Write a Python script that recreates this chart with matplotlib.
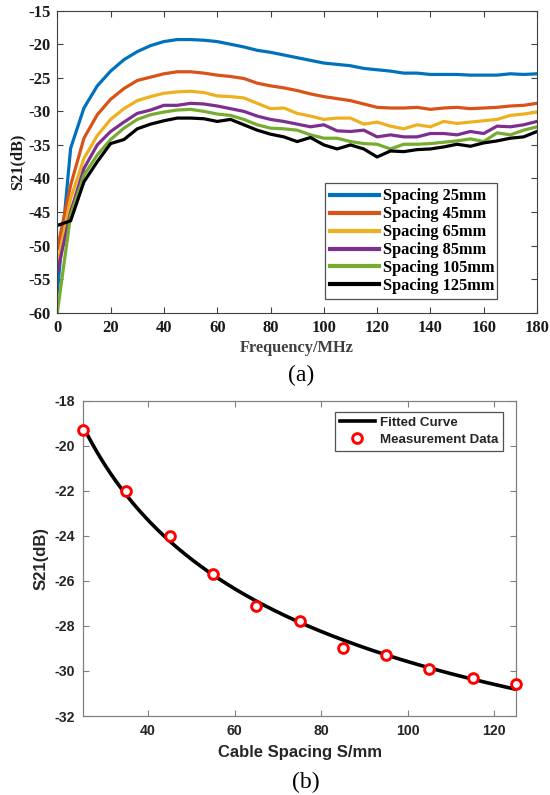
import numpy as np
import matplotlib
matplotlib.use("Agg")
import matplotlib.pyplot as plt

plt.rcParams["axes.unicode_minus"] = False

# ---- (a) S21 versus frequency for several cable spacings ----
freq_mhz = list(range(0, 181, 5))

spacing_labels = ["Spacing 25mm", "Spacing 45mm", "Spacing 65mm",
                  "Spacing 85mm", "Spacing 105mm", "Spacing 125mm"]
spacing_colors = ["#0072BD", "#D95319", "#EDB120", "#7E2F8E", "#77AC30", "#000000"]

s21_25 = [-57.0, -35.5, -29.5, -26.2, -24.0, -22.3, -21.1, -20.2, -19.6, -19.3,
          -19.3, -19.4, -19.6, -20.0, -20.4, -20.9, -21.2, -21.6, -22.0, -22.4,
          -22.8, -23.0, -23.2, -23.6, -23.8, -24.0, -24.3, -24.3, -24.5, -24.5,
          -24.5, -24.6, -24.6, -24.6, -24.4, -24.5, -24.4]
s21_45 = [-50.5, -41.0, -34.0, -30.5, -28.2, -26.6, -25.4, -24.9, -24.4, -24.1,
          -24.1, -24.3, -24.6, -24.8, -25.1, -25.8, -26.2, -26.5, -26.9, -27.4,
          -27.8, -28.1, -28.4, -28.9, -29.4, -29.5, -29.5, -29.4, -29.7, -29.5,
          -29.4, -29.6, -29.5, -29.4, -29.2, -29.1, -28.8]
s21_65 = [-53.0, -43.0, -37.0, -33.6, -31.2, -29.6, -28.4, -27.8, -27.3, -27.1,
          -27.0, -27.2, -27.7, -27.8, -28.0, -28.8, -29.6, -29.5, -30.3, -30.7,
          -31.2, -31.0, -31.0, -31.9, -31.6, -32.2, -32.6, -32.0, -32.3, -31.5,
          -31.8, -31.6, -31.4, -31.2, -30.6, -30.4, -30.1]
s21_85 = [-54.0, -45.0, -38.5, -35.0, -33.0, -31.6, -30.3, -29.8, -29.1, -29.1,
          -28.8, -28.9, -29.2, -29.6, -30.0, -30.7, -31.2, -31.5, -31.9, -32.3,
          -32.0, -32.9, -33.0, -32.8, -33.8, -33.5, -33.8, -33.8, -33.3, -33.3,
          -33.5, -33.0, -33.3, -32.2, -32.3, -32.0, -31.5]
s21_105 = [-60.0, -45.5, -39.5, -36.5, -34.2, -32.5, -31.2, -30.5, -30.1, -29.8,
           -29.7, -30.0, -30.4, -30.6, -31.2, -32.0, -32.5, -32.6, -32.8, -33.5,
           -34.0, -34.0, -34.5, -34.8, -34.9, -35.6, -34.9, -34.9, -34.8, -34.6,
           -34.4, -34.1, -34.5, -33.2, -33.5, -32.8, -32.3]
s21_125 = [-47.0, -46.3, -40.5, -37.5, -34.8, -34.2, -32.6, -31.9, -31.4, -31.0,
           -31.0, -31.1, -31.5, -31.2, -32.0, -32.8, -33.4, -33.8, -34.5, -33.9,
           -35.0, -35.6, -35.0, -35.6, -36.8, -35.9, -36.0, -35.7, -35.6, -35.3,
           -34.9, -35.2, -34.7, -34.4, -34.0, -33.8, -33.0]
spacing_series = [s21_25, s21_45, s21_65, s21_85, s21_105, s21_125]

# ---- (b) S21 at the resonance versus cable spacing ----
cable_spacing_mm = [25, 35, 45, 55, 65, 75, 85, 95, 105, 115, 125]
measured_s21 = [-19.3, -22.0, -24.0, -25.7, -27.1, -27.8, -29.0, -29.3, -29.9, -30.3, -30.6]

serif = "Liberation Serif"
sans = "Liberation Sans"

fig = plt.figure(figsize=(5.5, 7.95), dpi=100)
W, H = 550.0, 795.0


def frame(left, top, right, bottom):
    return [left / W, 1 - bottom / H, (right - left) / W, (bottom - top) / H]


# ---------------- panel (a) ----------------
ax1 = fig.add_axes(frame(57.3, 10.7, 537.0, 312.7))
for vals, lab, col in zip(spacing_series, spacing_labels, spacing_colors):
    ax1.plot(freq_mhz, vals, color=col, lw=2.3, label=lab, solid_joinstyle="round")
ax1.set_xlim(0, 180)
ax1.set_ylim(-60, -15)
ax1.set_xticks(range(0, 181, 20))
ax1.set_yticks(range(-60, -14, 5))
ax1.tick_params(direction="in", top=True, right=True, length=4, width=0.8,
                color="#404040", pad=5)
for lbl in ax1.get_xticklabels() + ax1.get_yticklabels():
    lbl.set_fontfamily(serif)
    lbl.set_fontweight("bold")
    lbl.set_fontsize(12)
    lbl.set_color("#1a1a1a")
for sp in ax1.spines.values():
    sp.set_color("#404040")
    sp.set_linewidth(0.8)
ax1.set_xlabel("Frequency/MHz", fontfamily=serif, fontweight="bold",
               fontsize=11.8, color="#404040", labelpad=3)
ax1.set_ylabel("S21(dB)", fontfamily=serif, fontweight="bold",
               fontsize=11.8, color="#1a1a1a", labelpad=1.5)
leg1 = ax1.legend(loc="lower left", bbox_to_anchor=(0.558, 0.045, 0.359, 0.391),
                  mode="expand", borderaxespad=0, frameon=True, fancybox=False,
                  edgecolor="#262626", handlelength=3.0, handletextpad=0.25,
                  borderpad=0.3, labelspacing=0.12,
                  prop={"family": serif, "weight": "bold", "size": 11.8})
leg1.get_frame().set_linewidth(0.9)
for ln in leg1.get_lines():
    ln.set_linewidth(3.0)

fig.text(301 / W, 1 - 375 / H, "(a)", ha="center", va="center",
         fontfamily=serif, fontsize=17, color="#000000")

# ---------------- panel (b) ----------------
xs = np.asarray(cable_spacing_mm, dtype=float)
ys = np.asarray(measured_s21, dtype=float)

# least-squares power-law fit  y = a + b * x**p
best = None
for p in np.linspace(-3.0, 1.0, 801):
    basis = np.log(xs) if abs(p) < 1e-9 else xs ** p
    A = np.column_stack([np.ones_like(xs), basis])
    coef, *_ = np.linalg.lstsq(A, ys, rcond=None)
    err = np.sum((A @ coef - ys) ** 2)
    if best is None or err < best[0]:
        best = (err, p, coef)
_, p_fit, (a_fit, b_fit) = best
x_fit = np.linspace(xs.min(), xs.max(), 300)
basis_fit = np.log(x_fit) if abs(p_fit) < 1e-9 else x_fit ** p_fit
y_fit = a_fit + b_fit * basis_fit

ax2 = fig.add_axes(frame(83.0, 400.5, 516.0, 716.0))
ax2.plot(x_fit, y_fit, color="black", lw=2.6, label="Fitted Curve")
ax2.plot(xs, ys, linestyle="none", marker="o", markersize=7,
         markerfacecolor="white", markeredgecolor="#ff0000", markeredgewidth=2.1,
         label="Measurement Data", clip_on=False, zorder=3)
ax2.set_xlim(25, 125)
ax2.set_ylim(-32, -18)
ax2.set_xticks(range(40, 121, 20))
ax2.set_yticks(range(-32, -17, 2))
ax2.tick_params(direction="in", top=True, right=True, length=4, width=0.8,
                color="#808080", pad=6)
for lbl in ax2.get_xticklabels() + ax2.get_yticklabels():
    lbl.set_fontfamily(sans)
    lbl.set_fontweight("bold")
    lbl.set_fontsize(10.2)
    lbl.set_color("#262626")
for sp in ax2.spines.values():
    sp.set_color("#808080")
    sp.set_linewidth(0.9)
ax2.set_xlabel("Cable Spacing S/mm", fontfamily=sans, fontweight="bold",
               fontsize=12, color="#262626", labelpad=5)
ax2.set_ylabel("S21(dB)", fontfamily=sans, fontweight="bold",
               fontsize=12, color="#262626", labelpad=4)
leg2 = ax2.legend(loc="upper right", bbox_to_anchor=(0.970, 0.964),
                  borderaxespad=0, frameon=True, fancybox=False,
                  edgecolor="#262626", handlelength=2.6, handletextpad=0.4,
                  borderpad=0.35, labelspacing=0.35,
                  prop={"family": sans, "weight": "bold", "size": 9.6})
leg2.get_frame().set_linewidth(0.9)
for t in leg2.get_texts():
    t.set_color("#262626")

fig.text(306 / W, 1 - 782 / H, "(b)", ha="center", va="center",
         fontfamily=serif, fontsize=17, color="#000000")

fig.savefig("out.png", dpi=100, facecolor="white")
